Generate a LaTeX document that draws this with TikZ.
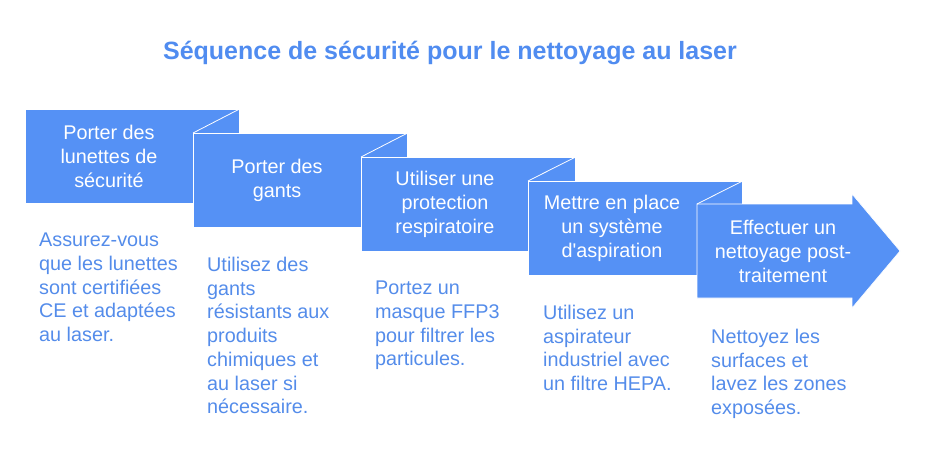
\documentclass[tikz,border=0pt]{standalone}
\usepackage{fontspec}
\setmainfont{Liberation Sans}[Ligatures=TeXOff]
\definecolor{boxblue}{RGB}{85,145,245}
\definecolor{txtblue}{RGB}{84,140,234}
\definecolor{titleblue}{RGB}{80,140,240}
\begin{document}
\begin{tikzpicture}[x=1pt,y=-1pt,
  stepbox/.style={rectangle, fill=boxblue, draw=white, line width=0.6pt,
    minimum width=214pt, minimum height=94pt, anchor=north west, inner sep=0pt},
  boxtext/.style={text=white, align=center, inner sep=0pt,
    font=\fontsize{19.8}{24}\selectfont},
  desc/.style={text=txtblue, align=left, anchor=north west, inner sep=0pt,
    font=\fontsize{19.8}{23.7}\selectfont},
  fold/.style={draw=white, line width=0.8pt}]
\useasboundingbox (0,0) rectangle (926,469);

\node[text=titleblue, font=\fontsize{25}{28}\selectfont\bfseries] (title) at (450,53)
  {Séquence de sécurité pour le nettoyage au laser};

\node[stepbox] (b1) at (25,109) {};
\node[stepbox] (b2) at (193,133) {};
\draw[fold] (b2.north west) -- (b1.north east);
\node[stepbox] (b3) at (361,157) {};
\draw[fold] (b3.north west) -- (b2.north east);
\node[stepbox] (b4) at (528,181) {};
\draw[fold] (b4.north west) -- (b3.north east);
\coordinate (b5nw) at (697,204);
\filldraw[fill=boxblue, draw=white, line width=0.6pt]
  (b5nw) -- (852,204) -- (852,194) -- (900,251) -- (852,308) -- (852,298)
  -- (697,298) -- cycle;
\draw[fold] (b5nw) -- (b4.north east);

\node[boxtext] (t1) at (109,156) {Porter des\\lunettes de\\sécurité};
\node[boxtext] (t2) at (277,180) {Porter des\\gants};
\node[boxtext] (t3) at (445,204) {Utiliser une\\protection\\respiratoire};
\node[boxtext] (t4) at (612,228) {Mettre en place\\un système\\d'aspiration};
\node[boxtext] (t5) at (783,251) {Effectuer un\\nettoyage post-\\traitement};

\node[desc] (d1) at (39,233) {Assurez-vous\\que les lunettes\\sont certifiées\\CE et adaptées\\au laser.};
\node[desc] (d2) at (207,257) {Utilisez des\\gants\\résistants aux\\produits\\chimiques et\\au laser si\\nécessaire.};
\node[desc] (d3) at (375,281) {Portez un\\masque FFP3\\pour filtrer les\\particules.};
\node[desc] (d4) at (543,305) {Utilisez un\\aspirateur\\industriel avec\\un filtre HEPA.};
\node[desc] (d5) at (711,329) {Nettoyez les\\surfaces et\\lavez les zones\\exposées.};
\end{tikzpicture}
\end{document}
